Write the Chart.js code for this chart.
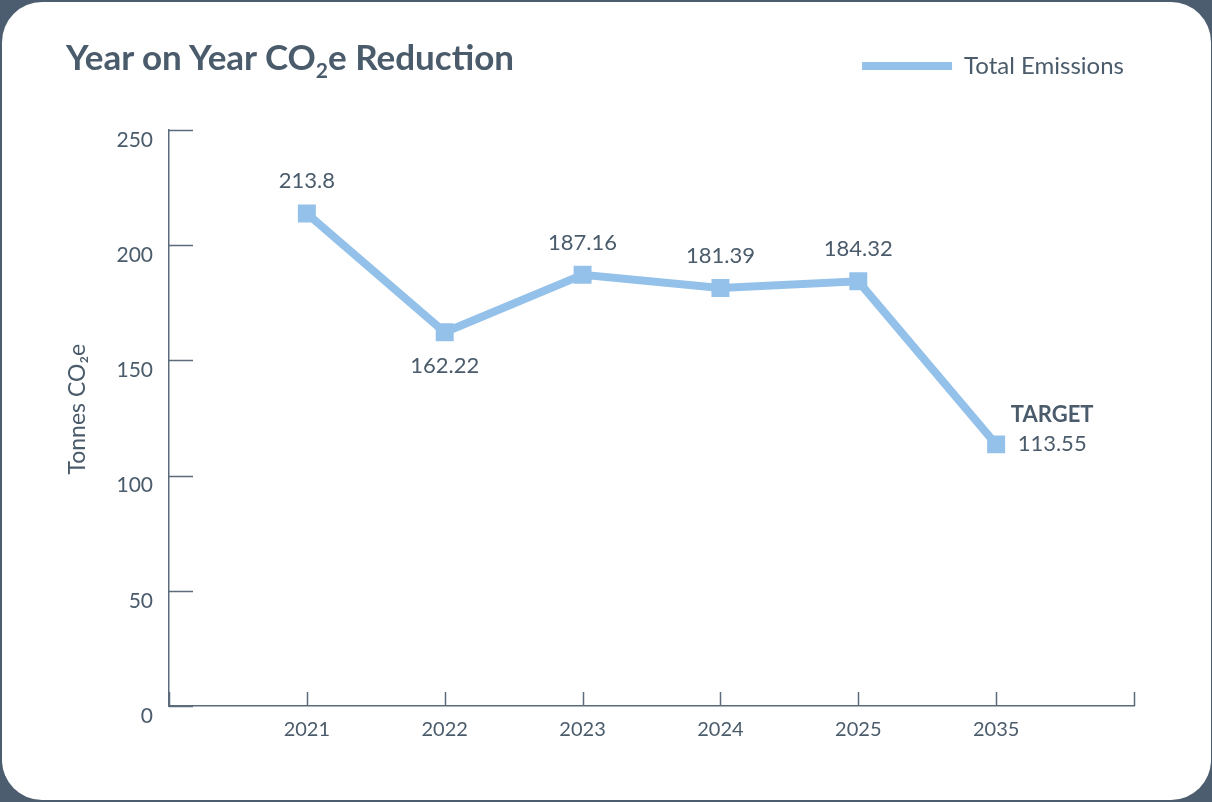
<!DOCTYPE html>
<html>
<head>
<meta charset="utf-8">
<script src="https://cdn.jsdelivr.net/npm/chart.js@4"></script>
<style>
  html, body { margin: 0; padding: 0; }
  body { width: 1212px; height: 802px; background: #4b5d6e; position: relative; overflow: hidden; }
  .card { position: absolute; left: 2px; top: 2px; width: 1209px; height: 798px; background: #fff; border-radius: 40px; overflow: hidden; }
  .card h1 { position: absolute; left: 64px; top: 37px; margin: 0; font: 700 35px/35px Lato, sans-serif; color: #4a5b6b; white-space: nowrap; }
  .card h1 sub { font-size: 0.6em; vertical-align: -0.4em; line-height: 0; }
  #chart { position: absolute; left: 0; top: 0; }
</style>
</head>
<body>
<div class="card">
  <canvas id="chart" width="1209" height="798"></canvas>
  <h1>Year on Year CO<sub>2</sub>e Reduction</h1>
</div>
<script>
const years = ["2021", "2022", "2023", "2024", "2025", "2035"];
const emissions = [213.8, 162.22, 187.16, 181.39, 184.32, 113.55];
const yTicks = [0, 50, 100, 150, 200, 250];
// where each value label sits relative to its point
const labelSide = ["above", "below", "above", "above", "above", "target"];

const textColor = "#4a5b6b";
const axisColor = "#5b6b7b";
const lineColor = "#94c1e9";

// tick marks drawn inward, like the original
const innerTicks = {
  id: "innerTicks",
  beforeDatasetsDraw(chart) {
    const { ctx, chartArea, scales } = chart;
    ctx.save();
    ctx.strokeStyle = axisColor;
    ctx.lineWidth = 1.5;
    ctx.beginPath();
    yTicks.forEach(v => {
      const y = Math.round(scales.y.getPixelForValue(v)) + 0.5;
      ctx.moveTo(chartArea.left, y);
      ctx.lineTo(chartArea.left + 24, y);
    });
    scales.x.ticks.forEach((t, i) => {
      const x = Math.round(scales.x.getPixelForTick(i)) + 0.5;
      ctx.moveTo(x, chartArea.bottom);
      ctx.lineTo(x, chartArea.bottom - 14);
    });
    ctx.stroke();
    ctx.restore();
  }
};

const valueLabels = {
  id: "valueLabels",
  afterDatasetsDraw(chart) {
    const { ctx } = chart;
    const meta = chart.getDatasetMeta(0);
    ctx.save();
    ctx.fillStyle = textColor;
    ctx.textAlign = "center";
    ctx.textBaseline = "middle";
    emissions.forEach((v, i) => {
      const pt = meta.data[i + 1];
      const side = labelSide[i];
      ctx.font = "22px Lato, sans-serif";
      if (side === "above") {
        ctx.fillText(String(v), pt.x, pt.y - 32);
      } else if (side === "below") {
        ctx.fillText(String(v), pt.x, pt.y + 34);
      } else {
        ctx.fillText(String(v), pt.x + 56, pt.y);
        ctx.font = "bold 22px Lato, sans-serif";
        ctx.fillText("TARGET", pt.x + 56, pt.y - 29);
      }
    });
    ctx.restore();
  }
};

new Chart(document.getElementById("chart"), {
  type: "line",
  data: {
    labels: ["", ...years, ""],
    datasets: [{
      label: "Total Emissions",
      data: [null, ...emissions, null],
      xAxisID: "x",
      yAxisID: "y",
      borderColor: lineColor,
      backgroundColor: lineColor,
      borderWidth: 8,
      tension: 0,
      pointStyle: "rect",
      pointRadius: 12.7,
      pointBorderWidth: 0,
      pointBackgroundColor: lineColor
    }]
  },
  options: {
    responsive: false,
    animation: false,
    layout: { padding: { top: 42, right: 77, left: 0, bottom: 0 } },
    plugins: {
      tooltip: { enabled: false },
      legend: {
        position: "top",
        align: "end",
        labels: {
          boxWidth: 90,
          boxHeight: 8,
          color: textColor,
          font: { family: "Lato", size: 24 },
          padding: 10,
          generateLabels(chart) {
            return Chart.defaults.plugins.legend.labels.generateLabels(chart)
              .map(l => ({ ...l, lineWidth: 0, fillStyle: lineColor }));
          }
        }
      }
    },
    scales: {
      x: {
        offset: false,
        grid: { display: false, drawTicks: false },
        border: { color: axisColor, width: 1.5 },
        ticks: { color: textColor, font: { family: "Lato", size: 20 }, padding: 12, autoSkip: false, maxRotation: 0 },
        afterFit(scale) { scale.height = 94; }
      },
      y: {
        min: 0,
        max: 250,
        grid: { display: false, drawTicks: false },
        border: { color: axisColor, width: 1.5 },
        ticks: { stepSize: 50, color: textColor, font: { family: "Lato", size: 21 }, padding: 16, labelOffset: 10 },
        title: {
          display: true,
          text: "   Tonnes CO₂e",
          color: textColor,
          font: { family: "Lato", size: 23 },
          padding: 62
        },
        afterFit(scale) { scale.width = 167; }
      },
      // empty top axis, only used as a spacer under the legend
      gap: {
        type: "linear",
        position: "top",
        grid: { display: false, drawTicks: false },
        border: { display: false },
        ticks: { display: false },
        afterFit(scale) { scale.height = 42; }
      }
    }
  },
  plugins: [innerTicks, valueLabels]
});
</script>
</body>
</html>
